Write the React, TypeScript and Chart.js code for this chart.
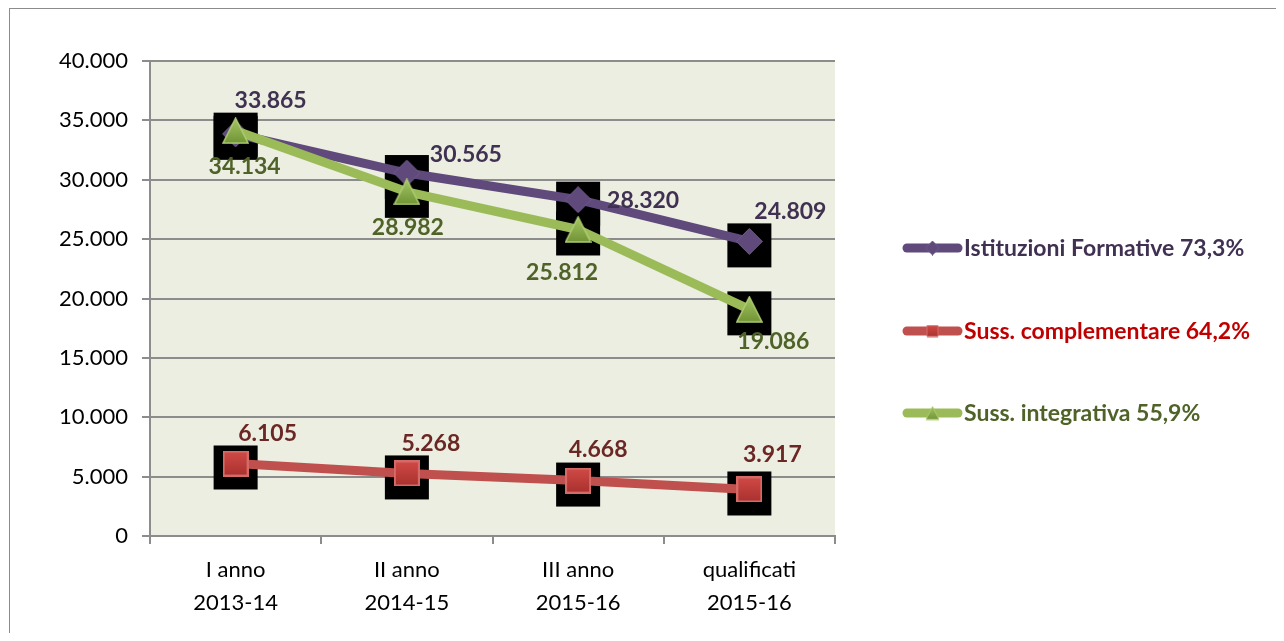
import React, { useEffect, useRef } from 'react';
import { Chart, registerables } from 'chart.js';

Chart.register(...registerables);

// ---------- data ----------
const categories: string[][] = [
  ['I anno', '2013-14'],
  ['II anno', '2014-15'],
  ['III anno', '2015-16'],
  ['qualificati', '2015-16'],
];
const istituzioniFormative = [33865, 30565, 28320, 24809];
const sussComplementare = [6105, 5268, 4668, 3917];
const sussIntegrativa = [34134, 28982, 25812, 19086];
const seriesNames = [
  'Istituzioni Formative 73,3%',
  'Suss. complementare 64,2%',
  'Suss. integrativa 55,9%',
];
const yMin = 0;
const yMax = 40000;
const yStep = 5000;

// ---------- styles ----------
const FONT = 'Lato, "Open Sans", sans-serif';
const lineColors = ['#5F4A7B', '#C0504D', '#9BBB59'];
const labelColors = ['#403152', '#6B2724', '#4F6228'];
const legendTextColors = ['#403152', '#C00000', '#4F6228'];
// label offsets (px) relative to each point, per series
const labelOffsets: number[][][] = [
  [[35, -33], [59, -18], [65, 1], [41, -30]],
  [[32, -30], [24, -30], [20, -31], [23, -35]],
  [[9, 36], [1, 36], [-16, 43], [24, 32]],
];

const fmt = (v: number) => String(Math.round(v)).replace(/\B(?=(\d{3})+(?!\d))/g, '.');

function makeMarker(kind: 'diamond' | 'square' | 'triangle', scale = 1): HTMLCanvasElement {
  const c = document.createElement('canvas');
  const size = Math.round((kind === 'square' ? 26 : 27) * scale);
  c.width = size;
  c.height = size;
  const ctx = c.getContext('2d')!;
  const s = size;
  ctx.beginPath();
  if (kind === 'diamond') {
    ctx.moveTo(s / 2, 0.5);
    ctx.lineTo(s - 0.5, s / 2);
    ctx.lineTo(s / 2, s - 0.5);
    ctx.lineTo(0.5, s / 2);
    ctx.closePath();
    ctx.fillStyle = '#5F4A7B';
    ctx.fill();
    ctx.strokeStyle = '#6E5A8A';
    ctx.lineWidth = 1;
    ctx.stroke();
  } else if (kind === 'square') {
    const g = ctx.createLinearGradient(0, 0, 0, s);
    g.addColorStop(0, '#D24B47');
    g.addColorStop(1, '#A8302D');
    ctx.rect(1, 1, s - 2, s - 2);
    ctx.fillStyle = g;
    ctx.fill();
    ctx.strokeStyle = '#D56A66';
    ctx.lineWidth = 2 * scale;
    ctx.stroke();
  } else {
    const g = ctx.createLinearGradient(0, 0, 0, s);
    g.addColorStop(0, '#A5C766');
    g.addColorStop(1, '#6F9233');
    ctx.moveTo(s / 2, 1);
    ctx.lineTo(s - 1, s - 1);
    ctx.lineTo(1, s - 1);
    ctx.closePath();
    ctx.fillStyle = g;
    ctx.fill();
    ctx.strokeStyle = '#AFCD74';
    ctx.lineWidth = 1.5 * scale;
    ctx.stroke();
  }
  return c;
}

export default function App() {
  const ref = useRef<HTMLCanvasElement | null>(null);

  useEffect(() => {
    const canvas = ref.current;
    if (!canvas) return;

    const markers = [makeMarker('diamond'), makeMarker('square'), makeMarker('triangle')];
    const legendMarkers = [
      makeMarker('diamond', 0.55),
      makeMarker('square', 0.5),
      makeMarker('triangle', 0.55),
    ];

    const bgPlugin = {
      id: 'plotBg',
      beforeDraw(chart: any) {
        const { ctx, chartArea } = chart;
        ctx.save();
        ctx.fillStyle = '#EBEEE0';
        ctx.fillRect(chartArea.left, chartArea.top, chartArea.right - chartArea.left, chartArea.bottom - chartArea.top);
        ctx.restore();
      },
    };

    const shadowPlugin = {
      id: 'markerShadow',
      beforeDatasetsDraw(chart: any) {
        const { ctx } = chart;
        ctx.save();
        ctx.fillStyle = '#000';
        chart.data.datasets.forEach((_: any, i: number) => {
          const meta = chart.getDatasetMeta(i);
          meta.data.forEach((pt: any) => {
            ctx.fillRect(pt.x - 22, pt.y - 18, 44, 44);
          });
        });
        ctx.restore();
      },
    };

    const labelPlugin = {
      id: 'pointLabels',
      afterDatasetsDraw(chart: any) {
        const { ctx } = chart;
        ctx.save();
        ctx.font = `bold 23px ${FONT}`;
        ctx.textAlign = 'center';
        ctx.textBaseline = 'middle';
        chart.data.datasets.forEach((ds: any, i: number) => {
          const meta = chart.getDatasetMeta(i);
          ctx.fillStyle = labelColors[i];
          meta.data.forEach((pt: any, j: number) => {
            const [dx, dy] = labelOffsets[i][j];
            ctx.fillText(fmt(ds.data[j]), pt.x + dx, pt.y + dy);
          });
        });
        ctx.restore();
      },
    };

    const legendPlugin = {
      id: 'sideLegend',
      afterDraw(chart: any) {
        const { ctx } = chart;
        const x0 = 893;
        const x1 = 952;
        const ys = [239, 322, 404];
        ctx.save();
        chart.data.datasets.forEach((ds: any, i: number) => {
          const y = ys[i];
          ctx.strokeStyle = lineColors[i];
          ctx.lineWidth = 9;
          ctx.lineCap = 'round';
          ctx.beginPath();
          ctx.moveTo(x0 + 4, y);
          ctx.lineTo(x1 - 4, y);
          ctx.stroke();
          const m = legendMarkers[i];
          ctx.drawImage(m, (x0 + x1) / 2 - m.width / 2, y - m.height / 2);
          ctx.font = `bold 23px ${FONT}`;
          ctx.textAlign = 'left';
          ctx.textBaseline = 'middle';
          ctx.fillStyle = legendTextColors[i];
          ctx.fillText(ds.label, x1 + 2, y + 1);
        });
        ctx.restore();
      },
    };

    const seriesData = [istituzioniFormative, sussComplementare, sussIntegrativa];
    const orders = [3, 2, 1];

    const chart = new Chart(canvas, {
      type: 'line',
      data: {
        labels: categories,
        datasets: seriesData.map((d, i) => ({
          label: seriesNames[i],
          data: d,
          borderColor: lineColors[i],
          backgroundColor: lineColors[i],
          borderWidth: 9,
          borderJoinStyle: 'round' as const,
          tension: 0,
          fill: false,
          pointStyle: markers[i],
          pointRadius: 13,
          pointHoverRadius: 13,
          order: orders[i],
        })),
      },
      options: {
        animation: false,
        responsive: false,
        maintainAspectRatio: false,
        events: [],
        layout: { padding: { top: 52, right: 442, bottom: 0, left: 0 } },
        plugins: {
          legend: { display: false },
          tooltip: { enabled: false },
          title: { display: false },
        },
        scales: {
          x: {
            type: 'category',
            offset: true,
            grid: {
              offset: true,
              drawOnChartArea: false,
              drawTicks: true,
              tickLength: 8,
              color: '#8C8C8C',
              lineWidth: 2,
            },
            border: { color: '#8C8C8C', width: 2 },
            ticks: {
              color: '#000',
              font: { family: FONT, size: 22, lineHeight: 1.5 },
              padding: 9,
              maxRotation: 0,
              autoSkip: false,
            },
            afterFit: (s: any) => {
              s.height = 97;
            },
          },
          y: {
            min: yMin,
            max: yMax,
            grid: {
              color: '#8C8C8C',
              lineWidth: 2,
              drawTicks: true,
              tickLength: 8,
            },
            border: { color: '#8C8C8C', width: 2 },
            ticks: {
              stepSize: yStep,
              color: '#000',
              font: { family: FONT, size: 22 },
              padding: 14,
              callback: (v: any) => fmt(Number(v)),
            },
            afterFit: (s: any) => {
              s.width = 140;
            },
          },
        },
      },
      plugins: [bgPlugin, shadowPlugin, labelPlugin, legendPlugin],
    } as any);

    return () => chart.destroy();
  }, []);

  return (
    <div
      style={{
        marginLeft: 1,
        borderLeft: '1px solid #8C8C8C',
        borderTop: '1px solid #8C8C8C',
        width: 1267,
        height: 624,
        background: '#fff',
      }}
    >
      <canvas ref={ref} width={1267} height={624} style={{ display: 'block' }} />
    </div>
  );
}
